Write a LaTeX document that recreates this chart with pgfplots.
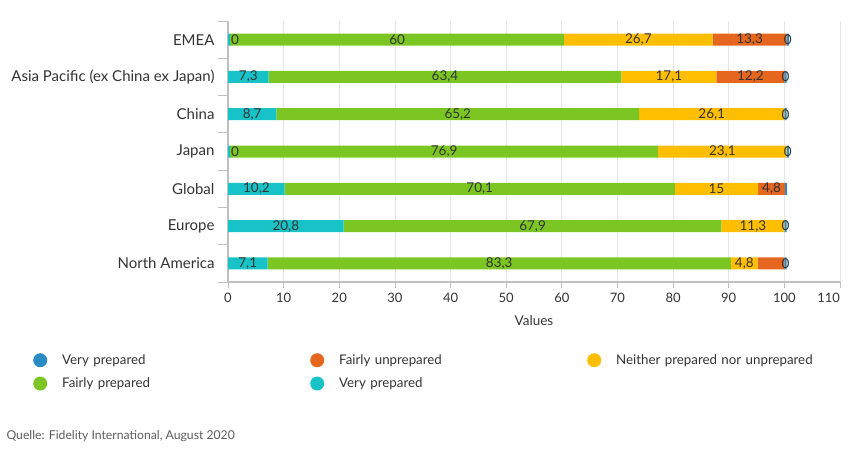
\documentclass[border=0pt]{standalone}
\usepackage{pgfplots}
\pgfplotsset{compat=1.18}
\usepackage{pgfplotstable}
\usepackage{fontspec}
\setmainfont{Lato}
\definecolor{cteal}{HTML}{17C3C7}
\definecolor{cgreen}{HTML}{7CC624}
\definecolor{cyellow}{HTML}{FFBF00}
\definecolor{corange}{HTML}{E5661E}
\definecolor{cblue}{HTML}{2B8CC4}
\definecolor{ctext}{HTML}{333333}
\definecolor{cgrid}{HTML}{E6E6E6}
\definecolor{caxis}{HTML}{C0C0C0}
\protected\def\zl{\makebox[0pt][l]{\hspace{2pt}0}}

% y: 0 North America, 1 Europe, 2 Global, 3 Japan, 4 China, 5 Asia Pacific, 6 EMEA
\pgfplotstableread{
y w lbl
0 7.1 7,1
1 20.8 20,8
2 10.2 10,2
3 0.4 \zl
4 8.7 8,7
5 7.3 7,3
6 0.4 \zl
}\teal
\pgfplotstableread{
y w lbl
0 83.3 83,3
1 67.9 67,9
2 70.1 70,1
3 76.9 76,9
4 65.2 65,2
5 63.4 63,4
6 60 60
}\green
\pgfplotstableread{
y w lbl
0 4.8 4,8
1 11.3 11,3
2 15 15
3 23.1 23,1
4 26.1 26,1
5 17.1 17,1
6 26.7 26,7
}\yellow
\pgfplotstableread{
y w lbl
0 4.8 {}
1 0 {}
2 4.8 4,8
3 0 {}
4 0 {}
5 12.2 12,2
6 13.3 13,3
}\orange
\pgfplotstableread{
y w lbl
0 0.4 0
1 0.4 0
2 0.4 {}
3 0.4 0
4 0.4 0
5 0.4 0
6 0.4 0
}\blue

\begin{document}
\begin{tikzpicture}
\path[use as bounding box] (0,0) rectangle (849pt,451pt);
\begin{axis}[
  at={(228pt,169pt)}, anchor=south west,
  scale only axis, width=612pt, height=261pt,
  xbar stacked, bar width=12pt,
  xmin=0, xmax=110, ymin=-0.5, ymax=6.5,
  xtick={0,10,...,110},
  xticklabels={0,10,20,30,40,50,60,70,80,90,100,\makebox[0pt][r]{110}},
  ytick={0,...,6},
  yticklabels={North America,Europe,Global,Japan,China,Asia Pacific (ex China ex Japan),EMEA},
  minor ytick={-0.5,0.5,...,6.5},
  axis y line*=left, axis x line*=bottom,
  axis line style={caxis, line width=1.2pt},
  xmajorgrids, grid style={cgrid, line width=0.8pt},
  major x tick style={caxis, line width=0.8pt},
  major y tick style={draw=none},
  minor y tick style={caxis, line width=0.8pt},
  tick align=outside, major tick length=6pt, minor tick length=10pt,
  ytick pos=left, xtick pos=bottom,
  xticklabel style={font=\fontsize{13}{15}\selectfont, text=ctext, yshift=-2pt},
  yticklabel style={font=\fontsize{15}{17}\selectfont, text=ctext, xshift=-4pt},
  xlabel={Values},
  xlabel style={at={(axis description cs:0.5,0)}, anchor=center, yshift=-39pt, font=\fontsize{13.5}{15}\selectfont, text=ctext},
  point meta=explicit symbolic,
  nodes near coords,
  every node near coord/.append style={anchor=center, font=\fontsize{13.5}{15}\selectfont, text=ctext, inner sep=0pt},
  reverse legend,
  legend columns=3,
  legend image code/.code={\fill[#1] (7pt,0pt) circle (7pt);},
  legend style={at={(axis description cs:-0.3235,-0.262)}, anchor=north west, draw=none, fill=none,
    font=\fontsize{13.3}{15}\selectfont, text=ctext,
    nodes={text width=238pt, align=left, inner sep=2pt},
    /tikz/every odd column/.style={column sep=13pt},
    /tikz/every even column/.style={column sep=8pt},
    row sep=8pt},
]
\addplot[fill=cteal, draw=none] table[x=w, y=y, meta=lbl] {\teal};
\addlegendentry{Very prepared}
\addplot[fill=cgreen, draw=none] table[x=w, y=y, meta=lbl] {\green};
\addlegendentry{Fairly prepared}
\addplot[fill=cyellow, draw=none] table[x=w, y=y, meta=lbl] {\yellow};
\addlegendentry{Neither prepared nor unprepared}
\addplot[fill=corange, draw=none] table[x=w, y=y, meta=lbl] {\orange};
\addlegendentry{Fairly unprepared}
\addplot[fill=cblue, draw=none] table[x=w, y=y, meta=lbl] {\blue};
\addlegendentry{Very prepared}
\end{axis}
\node[anchor=west, font=\fontsize{12.2}{14}\selectfont, text=ctext!80] at (3pt,15pt) {Quelle: Fidelity International, August 2020};
\end{tikzpicture}
\end{document}
